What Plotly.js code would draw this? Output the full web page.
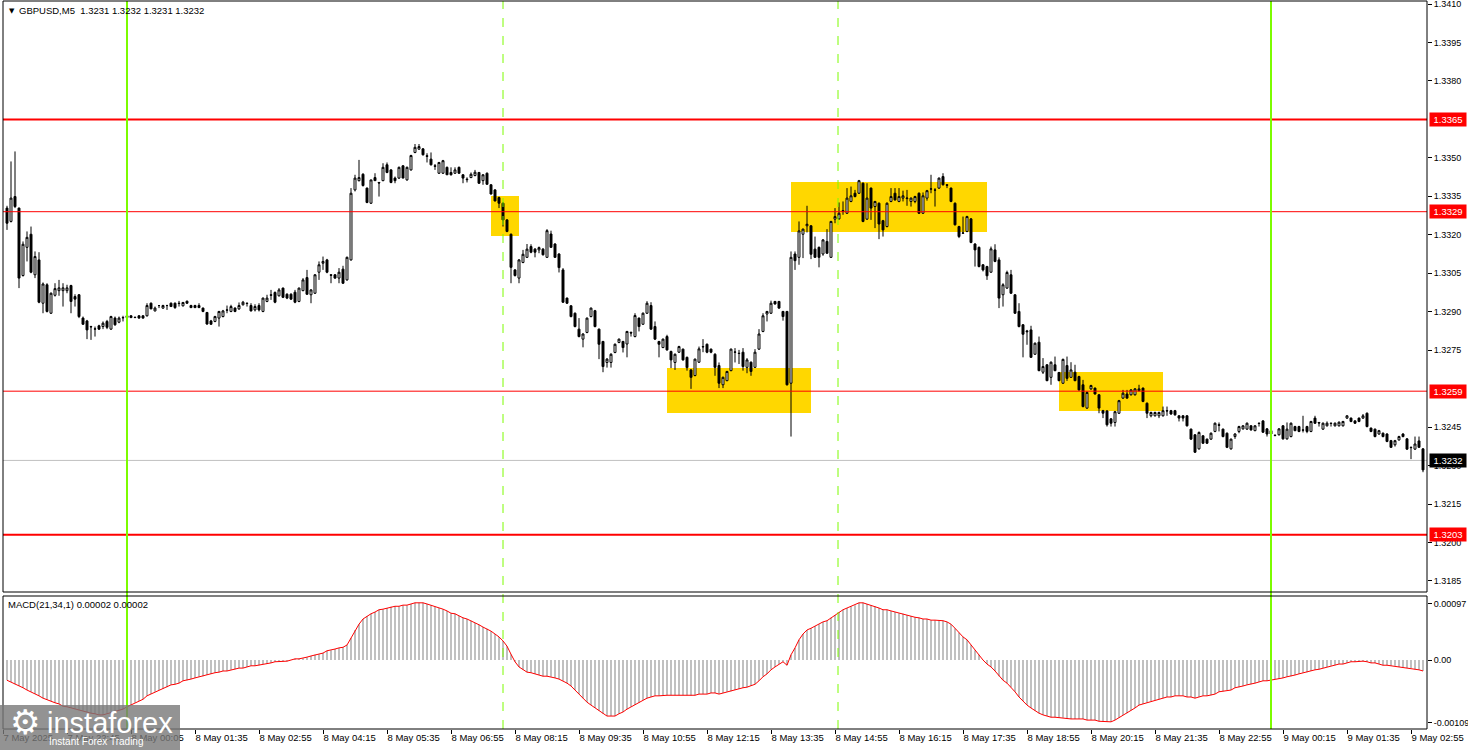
<!DOCTYPE html>
<html><head><meta charset="utf-8">
<script src="https://cdn.plot.ly/plotly-3.0.1.min.js"></script>
<style>html,body{margin:0;padding:0;background:#fff}#chart{width:1468px;height:750px}</style>
</head><body><div id="chart"></div>
<script>
// ---- GBPUSD M5 candles (bar index 0..354) ----
const opens = [
1.33304,1.33252,1.33349,1.33304,1.33041,1.33151,1.33202,1.33044,1.33102,1.32933,
1.33005,1.32894,1.32964,1.32982,1.32982,1.32982,1.33002,1.32959,1.32966,1.32875,
1.32864,1.32842,1.32832,1.32845,1.32842,1.32862,1.32832,1.32875,1.32859,1.32876,
1.32884,1.32884,1.32877,1.32884,1.32884,1.32884,1.32933,1.32903,1.32924,1.32914,
1.32924,1.32933,1.32933,1.32933,1.32923,1.32941,1.32924,1.32924,1.32924,1.32914,
1.32897,1.32864,1.32862,1.32875,1.32881,1.32907,1.32901,1.32914,1.32911,1.32927,
1.32933,1.32924,1.32907,1.32924,1.32901,1.32940,1.32966,1.32975,1.32962,1.32992,
1.32968,1.32968,1.32976,1.32940,1.32982,1.33033,1.32966,1.32972,1.33054,1.33089,
1.33102,1.33044,1.33044,1.33031,1.33066,1.33024,1.33102,1.33375,1.33411,1.33436,
1.33382,1.33323,1.33423,1.33404,1.33411,1.33473,1.33453,1.33421,1.33421,1.33469,
1.33414,1.33453,1.33521,1.33534,1.33535,1.33508,1.33495,1.33469,1.33440,1.33440,
1.33463,1.33443,1.33440,1.33463,1.33434,1.33417,1.33423,1.33431,1.33443,1.33411,
1.33440,1.33395,1.33375,1.33345,1.33323,1.33258,1.33202,1.33063,1.33031,1.33092,
1.33112,1.33154,1.33144,1.33141,1.33144,1.33112,1.33203,1.33164,1.33125,1.33063,
1.32953,1.32923,1.32894,1.32832,1.32793,1.32819,1.32881,1.32904,1.32832,1.32784,
1.32702,1.32702,1.32741,1.32780,1.32784,1.32774,1.32819,1.32803,1.32875,1.32851,
1.32894,1.32924,1.32842,1.32784,1.32760,1.32803,1.32745,1.32702,1.32742,1.32754,
1.32722,1.32673,1.32651,1.32703,1.32764,1.32773,1.32754,1.32734,1.32690,1.32615,
1.32631,1.32670,1.32743,1.32738,1.32742,1.32683,1.32703,1.32683,1.32754,1.32823,
1.32891,1.32894,1.32940,1.32940,1.32901,1.32901,1.32621,1.33125,1.33112,1.33202,
1.33235,1.33235,1.33144,1.33151,1.33125,1.33174,1.33112,1.33261,1.33262,1.33291,
1.33284,1.33330,1.33362,1.33362,1.33401,1.33261,1.33382,1.33310,1.33323,1.33255,
1.33232,1.33330,1.33362,1.33330,1.33343,1.33341,1.33330,1.33330,1.33362,1.33284,
1.33343,1.33378,1.33375,1.33382,1.33427,1.33395,1.33382,1.33323,1.33232,1.33206,
1.33213,1.33262,1.33164,1.33151,1.33083,1.33076,1.33054,1.33141,1.33102,1.32966,
1.32992,1.33044,1.32966,1.32901,1.32849,1.32825,1.32829,1.32734,1.32781,1.32664,
1.32693,1.32644,1.32693,1.32663,1.32621,1.32690,1.32644,1.32664,1.32647,1.32615,
1.32524,1.32599,1.32602,1.32576,1.32514,1.32513,1.32482,1.32468,1.32504,1.32563,
1.32579,1.32576,1.32576,1.32592,1.32602,1.32543,1.32494,1.32494,1.32494,1.32494,
1.32514,1.32514,1.32514,1.32494,1.32494,1.32494,1.32442,1.32420,1.32365,1.32416,
1.32403,1.32403,1.32433,1.32459,1.32442,1.32426,1.32365,1.32413,1.32433,1.32443,
1.32442,1.32455,1.32436,1.32465,1.32474,1.32443,1.32436,1.32417,1.32420,1.32455,
1.32404,1.32413,1.32452,1.32452,1.32439,1.32452,1.32433,1.32485,1.32468,1.32442,
1.32455,1.32465,1.32455,1.32455,1.32455,1.32485,1.32485,1.32474,1.32485,1.32485,
1.32504,1.32446,1.32442,1.32423,1.32426,1.32423,1.32397,1.32381,1.32400,1.32423,
1.32404,1.32371,1.32364,1.32396,1.32365];
const highs = [
1.33313,1.33486,1.33525,1.33306,1.33174,1.33213,1.33232,1.33135,1.33132,1.33014,
1.33011,1.32975,1.33011,1.33024,1.33011,1.33005,1.33005,1.32968,1.32969,1.32881,
1.32868,1.32845,1.32842,1.32849,1.32862,1.32868,1.32884,1.32881,1.32881,1.32884,
1.32886,1.32886,1.32880,1.32886,1.32886,1.32933,1.32936,1.32920,1.32925,1.32927,
1.32927,1.32936,1.32936,1.32942,1.32938,1.32943,1.32927,1.32927,1.32933,1.32916,
1.32899,1.32868,1.32884,1.32903,1.32907,1.32924,1.32927,1.32917,1.32936,1.32942,
1.32936,1.32933,1.32929,1.32933,1.32955,1.32966,1.32985,1.32979,1.32992,1.32994,
1.32972,1.32972,1.32985,1.32994,1.33031,1.33063,1.32988,1.33046,1.33096,1.33115,
1.33106,1.33045,1.33046,1.33070,1.33079,1.33115,1.33382,1.33434,1.33492,1.33440,
1.33384,1.33414,1.33440,1.33406,1.33479,1.33482,1.33456,1.33427,1.33466,1.33471,
1.33466,1.33512,1.33554,1.33554,1.33538,1.33518,1.33521,1.33476,1.33484,1.33492,
1.33466,1.33463,1.33463,1.33466,1.33436,1.33424,1.33443,1.33453,1.33445,1.33436,
1.33443,1.33397,1.33378,1.33349,1.33326,1.33261,1.33205,1.33066,1.33105,1.33141,
1.33164,1.33163,1.33148,1.33154,1.33148,1.33222,1.33216,1.33167,1.33128,1.33070,
1.32955,1.32925,1.32897,1.32875,1.32816,1.32877,1.32916,1.32907,1.32834,1.32786,
1.32719,1.32738,1.32776,1.32795,1.32786,1.32825,1.32823,1.32894,1.32877,1.32897,
1.32941,1.32937,1.32862,1.32786,1.32795,1.32810,1.32748,1.32737,1.32767,1.32756,
1.32725,1.32676,1.32717,1.32764,1.32793,1.32776,1.32756,1.32738,1.32702,1.32647,
1.32669,1.32756,1.32758,1.32751,1.32758,1.32719,1.32706,1.32754,1.32832,1.32894,
1.32903,1.32943,1.32942,1.32942,1.32903,1.32903,1.33135,1.33135,1.33252,1.33224,
1.33313,1.33237,1.33193,1.33154,1.33183,1.33222,1.33254,1.33304,1.33326,1.33330,
1.33382,1.33388,1.33375,1.33414,1.33404,1.33401,1.33384,1.33332,1.33326,1.33258,
1.33326,1.33382,1.33382,1.33382,1.33372,1.33375,1.33345,1.33352,1.33365,1.33365,
1.33375,1.33434,1.33382,1.33423,1.33440,1.33396,1.33384,1.33326,1.33235,1.33271,
1.33274,1.33265,1.33167,1.33154,1.33085,1.33079,1.33154,1.33163,1.33112,1.33011,
1.33060,1.33063,1.32968,1.32933,1.32852,1.32829,1.32845,1.32780,1.32803,1.32719,
1.32695,1.32706,1.32725,1.32665,1.32717,1.32725,1.32703,1.32693,1.32650,1.32634,
1.32589,1.32615,1.32604,1.32578,1.32517,1.32516,1.32485,1.32513,1.32556,1.32595,
1.32595,1.32598,1.32602,1.32615,1.32604,1.32546,1.32510,1.32510,1.32510,1.32530,
1.32530,1.32517,1.32517,1.32496,1.32496,1.32496,1.32444,1.32422,1.32433,1.32418,
1.32405,1.32429,1.32468,1.32468,1.32444,1.32429,1.32405,1.32426,1.32455,1.32457,
1.32468,1.32457,1.32457,1.32468,1.32477,1.32446,1.32439,1.32420,1.32446,1.32457,
1.32468,1.32468,1.32455,1.32455,1.32494,1.32455,1.32474,1.32494,1.32470,1.32468,
1.32472,1.32468,1.32468,1.32472,1.32474,1.32496,1.32487,1.32477,1.32487,1.32501,
1.32507,1.32448,1.32444,1.32439,1.32429,1.32426,1.32400,1.32400,1.32416,1.32426,
1.32407,1.32374,1.32413,1.32413,1.32368];
const lows = [
1.33219,1.33248,1.33304,1.32992,1.33037,1.33096,1.33050,1.33031,1.32933,1.32894,
1.32897,1.32891,1.32959,1.32962,1.32920,1.32972,1.32894,1.32920,1.32875,1.32849,
1.32793,1.32790,1.32803,1.32829,1.32832,1.32832,1.32829,1.32845,1.32855,1.32862,
1.32875,1.32875,1.32875,1.32873,1.32873,1.32881,1.32910,1.32901,1.32914,1.32911,
1.32907,1.32920,1.32911,1.32920,1.32920,1.32930,1.32914,1.32914,1.32914,1.32898,
1.32849,1.32849,1.32859,1.32842,1.32878,1.32894,1.32898,1.32898,1.32907,1.32924,
1.32920,1.32901,1.32901,1.32901,1.32898,1.32937,1.32946,1.32933,1.32959,1.32953,
1.32949,1.32946,1.32933,1.32937,1.32980,1.32966,1.32933,1.32969,1.33024,1.33063,
1.33050,1.33011,1.33028,1.33011,1.33008,1.33021,1.33099,1.33369,1.33408,1.33388,
1.33323,1.33320,1.33411,1.33349,1.33409,1.33440,1.33401,1.33401,1.33418,1.33421,
1.33411,1.33450,1.33518,1.33531,1.33509,1.33482,1.33470,1.33453,1.33437,1.33437,
1.33434,1.33431,1.33437,1.33437,1.33401,1.33404,1.33421,1.33428,1.33398,1.33395,
1.33395,1.33357,1.33330,1.33304,1.33232,1.33210,1.33011,1.33037,1.33011,1.33089,
1.33110,1.33128,1.33112,1.33128,1.33119,1.33110,1.33149,1.33110,1.33053,1.32934,
1.32930,1.32878,1.32839,1.32800,1.32761,1.32816,1.32878,1.32839,1.32715,1.32664,
1.32682,1.32682,1.32738,1.32777,1.32741,1.32722,1.32803,1.32800,1.32823,1.32849,
1.32891,1.32829,1.32790,1.32722,1.32758,1.32748,1.32680,1.32673,1.32739,1.32709,
1.32670,1.32599,1.32648,1.32700,1.32742,1.32738,1.32738,1.32650,1.32602,1.32602,
1.32629,1.32668,1.32702,1.32696,1.32670,1.32660,1.32650,1.32681,1.32751,1.32820,
1.32862,1.32891,1.32928,1.32911,1.32865,1.32612,1.32413,1.33063,1.33083,1.33109,
1.33209,1.33105,1.33110,1.33073,1.33118,1.33125,1.33110,1.33245,1.33259,1.33278,
1.33281,1.33327,1.33346,1.33359,1.33249,1.33258,1.33258,1.33226,1.33183,1.33193,
1.33229,1.33327,1.33333,1.33327,1.33330,1.33313,1.33310,1.33323,1.33281,1.33281,
1.33333,1.33362,1.33310,1.33379,1.33392,1.33382,1.33327,1.33236,1.33187,1.33203,
1.33210,1.33167,1.33076,1.33073,1.33057,1.33024,1.33052,1.33093,1.32914,1.32920,
1.32989,1.32969,1.32891,1.32839,1.32722,1.32771,1.32720,1.32732,1.32668,1.32657,
1.32629,1.32615,1.32668,1.32629,1.32618,1.32630,1.32642,1.32629,1.32592,1.32527,
1.32521,1.32595,1.32577,1.32504,1.32485,1.32452,1.32452,1.32452,1.32501,1.32560,
1.32560,1.32573,1.32573,1.32589,1.32547,1.32485,1.32488,1.32491,1.32485,1.32491,
1.32494,1.32498,1.32494,1.32472,1.32472,1.32452,1.32400,1.32349,1.32362,1.32384,
1.32384,1.32400,1.32430,1.32433,1.32410,1.32368,1.32362,1.32404,1.32426,1.32440,
1.32439,1.32436,1.32434,1.32452,1.32427,1.32413,1.32421,1.32414,1.32417,1.32401,
1.32401,1.32410,1.32434,1.32430,1.32429,1.32426,1.32430,1.32462,1.32452,1.32439,
1.32452,1.32452,1.32452,1.32452,1.32452,1.32482,1.32469,1.32462,1.32469,1.32482,
1.32449,1.32430,1.32410,1.32420,1.32410,1.32391,1.32369,1.32374,1.32397,1.32410,
1.32361,1.32325,1.32361,1.32369,1.32274];
const closes = [
1.33245,1.33343,1.33310,1.33031,1.33163,1.33190,1.33054,1.33115,1.32937,1.33008,
1.32901,1.32972,1.32990,1.32993,1.32993,1.32993,1.32940,1.32949,1.32881,1.32851,
1.32829,1.32841,1.32833,1.32832,1.32855,1.32839,1.32881,1.32849,1.32875,1.32877,
1.32877,1.32877,1.32878,1.32875,1.32875,1.32924,1.32911,1.32914,1.32924,1.32924,
1.32924,1.32920,1.32916,1.32932,1.32936,1.32933,1.32916,1.32916,1.32916,1.32901,
1.32852,1.32851,1.32881,1.32901,1.32903,1.32906,1.32920,1.32901,1.32924,1.32937,
1.32932,1.32903,1.32920,1.32907,1.32953,1.32953,1.32964,1.32937,1.32985,1.32956,
1.32953,1.32949,1.32937,1.32992,1.33024,1.32968,1.32985,1.33044,1.33083,1.33096,
1.33054,1.33042,1.33031,1.33054,1.33011,1.33112,1.33362,1.33421,1.33423,1.33392,
1.33326,1.33414,1.33411,1.33402,1.33463,1.33443,1.33404,1.33411,1.33463,1.33421,
1.33463,1.33509,1.33541,1.33544,1.33512,1.33506,1.33473,1.33467,1.33482,1.33489,
1.33434,1.33434,1.33453,1.33440,1.33421,1.33415,1.33436,1.33444,1.33401,1.33434,
1.33397,1.33359,1.33332,1.33323,1.33258,1.33213,1.33073,1.33041,1.33102,1.33124,
1.33144,1.33132,1.33132,1.33150,1.33122,1.33216,1.33151,1.33112,1.33072,1.32937,
1.32933,1.32881,1.32842,1.32803,1.32813,1.32875,1.32914,1.32842,1.32773,1.32686,
1.32715,1.32734,1.32773,1.32793,1.32760,1.32823,1.32817,1.32885,1.32842,1.32894,
1.32933,1.32832,1.32793,1.32773,1.32793,1.32751,1.32712,1.32734,1.32764,1.32712,
1.32682,1.32644,1.32715,1.32755,1.32763,1.32742,1.32742,1.32683,1.32621,1.32644,
1.32667,1.32754,1.32742,1.32737,1.32686,1.32712,1.32667,1.32742,1.32813,1.32884,
1.32901,1.32933,1.32930,1.32914,1.32881,1.32615,1.33112,1.33099,1.33215,1.33222,
1.33241,1.33124,1.33112,1.33112,1.33180,1.33128,1.33252,1.33271,1.33284,1.33294,
1.33343,1.33352,1.33349,1.33411,1.33252,1.33343,1.33304,1.33330,1.33242,1.33219,
1.33323,1.33349,1.33336,1.33349,1.33352,1.33343,1.33343,1.33349,1.33284,1.33352,
1.33372,1.33379,1.33374,1.33421,1.33395,1.33393,1.33330,1.33239,1.33193,1.33207,
1.33271,1.33170,1.33141,1.33076,1.33063,1.33040,1.33145,1.33096,1.32953,1.33005,
1.33053,1.32972,1.32894,1.32842,1.32812,1.32822,1.32722,1.32777,1.32670,1.32686,
1.32631,1.32703,1.32670,1.32631,1.32714,1.32640,1.32673,1.32631,1.32595,1.32530,
1.32585,1.32612,1.32579,1.32524,1.32504,1.32459,1.32465,1.32510,1.32553,1.32582,
1.32563,1.32595,1.32599,1.32599,1.32550,1.32504,1.32507,1.32507,1.32507,1.32514,
1.32513,1.32501,1.32498,1.32485,1.32485,1.32455,1.32403,1.32352,1.32429,1.32387,
1.32387,1.32426,1.32465,1.32457,1.32413,1.32371,1.32403,1.32423,1.32452,1.32455,
1.32465,1.32439,1.32455,1.32464,1.32430,1.32423,1.32423,1.32418,1.32443,1.32404,
1.32442,1.32465,1.32436,1.32433,1.32438,1.32433,1.32472,1.32465,1.32466,1.32465,
1.32465,1.32464,1.32465,1.32469,1.32472,1.32494,1.32472,1.32465,1.32472,1.32494,
1.32452,1.32433,1.32413,1.32436,1.32413,1.32394,1.32371,1.32397,1.32413,1.32413,
1.32364,1.32370,1.32384,1.32371,1.32283];
// ---- MACD(21,34,1) per bar ----
const macdValues = [
-0.00035,-0.00038,-0.00042,-0.00045,-0.00048,-0.00052,-0.00055,-0.00059,-0.00062,-0.00066,
-0.00069,-0.00071,-0.00074,-0.00076,-0.00080,-0.00081,-0.00083,-0.00085,-0.00087,-0.00088,
-0.00090,-0.00092,-0.00093,-0.00095,-0.00095,-0.00093,-0.00092,-0.00090,-0.00088,-0.00085,
-0.00081,-0.00078,-0.00074,-0.00071,-0.00068,-0.00062,-0.00059,-0.00055,-0.00052,-0.00050,
-0.00047,-0.00043,-0.00042,-0.00040,-0.00036,-0.00035,-0.00033,-0.00031,-0.00029,-0.00028,
-0.00026,-0.00024,-0.00022,-0.00021,-0.00019,-0.00019,-0.00017,-0.00016,-0.00014,-0.00014,
-0.00012,-0.00010,-0.00010,-0.00009,-0.00007,-0.00007,-0.00005,-0.00003,-0.00003,-0.00002,
-0.00002,0.00000,0.00002,0.00002,0.00003,0.00005,0.00007,0.00009,0.00010,0.00012,
0.00016,0.00017,0.00019,0.00021,0.00022,0.00026,0.00038,0.00052,0.00062,0.00071,
0.00076,0.00080,0.00083,0.00087,0.00088,0.00090,0.00092,0.00093,0.00093,0.00095,
0.00095,0.00097,0.00099,0.00099,0.00099,0.00097,0.00095,0.00092,0.00090,0.00088,
0.00085,0.00081,0.00080,0.00076,0.00073,0.00071,0.00068,0.00064,0.00061,0.00057,
0.00054,0.00050,0.00045,0.00040,0.00033,0.00024,0.00010,-0.00003,-0.00012,-0.00017,
-0.00021,-0.00022,-0.00024,-0.00026,-0.00028,-0.00028,-0.00029,-0.00031,-0.00033,-0.00036,
-0.00040,-0.00045,-0.00052,-0.00059,-0.00066,-0.00073,-0.00078,-0.00083,-0.00088,-0.00093,
-0.00097,-0.00097,-0.00097,-0.00093,-0.00090,-0.00085,-0.00081,-0.00078,-0.00074,-0.00069,
-0.00066,-0.00064,-0.00062,-0.00062,-0.00061,-0.00061,-0.00061,-0.00061,-0.00061,-0.00061,
-0.00061,-0.00062,-0.00061,-0.00059,-0.00059,-0.00059,-0.00057,-0.00057,-0.00059,-0.00057,
-0.00055,-0.00054,-0.00052,-0.00050,-0.00048,-0.00047,-0.00045,-0.00042,-0.00036,-0.00029,
-0.00024,-0.00017,-0.00012,-0.00007,-0.00003,-0.00009,0.00009,0.00021,0.00035,0.00045,
0.00052,0.00055,0.00059,0.00062,0.00066,0.00068,0.00073,0.00078,0.00083,0.00087,
0.00090,0.00093,0.00095,0.00099,0.00099,0.00097,0.00095,0.00093,0.00090,0.00087,
0.00087,0.00085,0.00083,0.00081,0.00080,0.00078,0.00076,0.00074,0.00073,0.00071,
0.00071,0.00069,0.00069,0.00069,0.00068,0.00066,0.00062,0.00055,0.00047,0.00040,
0.00035,0.00026,0.00017,0.00009,0.00000,-0.00007,-0.00012,-0.00019,-0.00028,-0.00035,
-0.00040,-0.00047,-0.00055,-0.00064,-0.00071,-0.00078,-0.00083,-0.00088,-0.00092,-0.00095,
-0.00097,-0.00099,-0.00099,-0.00100,-0.00100,-0.00102,-0.00102,-0.00102,-0.00102,-0.00102,
-0.00104,-0.00104,-0.00104,-0.00106,-0.00106,-0.00107,-0.00107,-0.00104,-0.00100,-0.00095,
-0.00092,-0.00087,-0.00083,-0.00078,-0.00076,-0.00074,-0.00071,-0.00069,-0.00068,-0.00066,
-0.00064,-0.00064,-0.00062,-0.00062,-0.00062,-0.00064,-0.00064,-0.00066,-0.00064,-0.00062,
-0.00062,-0.00061,-0.00059,-0.00055,-0.00054,-0.00052,-0.00052,-0.00048,-0.00047,-0.00045,
-0.00043,-0.00042,-0.00040,-0.00038,-0.00036,-0.00036,-0.00035,-0.00033,-0.00033,-0.00031,
-0.00029,-0.00028,-0.00026,-0.00024,-0.00022,-0.00021,-0.00019,-0.00017,-0.00016,-0.00014,
-0.00012,-0.00010,-0.00009,-0.00007,-0.00007,-0.00005,-0.00003,-0.00003,-0.00002,-0.00002,
-0.00003,-0.00005,-0.00005,-0.00007,-0.00009,-0.00009,-0.00010,-0.00010,-0.00012,-0.00012,
-0.00014,-0.00014,-0.00016,-0.00017,-0.00019];
// ---- axis ticks ----
const timeTickBars = [-1,15,31,47,63,79,95,111,127,143,159,175,191,207,223,239,255,271,287,303,319,335,351];
const timeTickLabels = ['7 May 2025','7 May 22:45','8 May 00:05','8 May 01:35','8 May 02:55','8 May 04:15','8 May 05:35',
  '8 May 06:55','8 May 08:15','8 May 09:35','8 May 10:55','8 May 12:15','8 May 13:35','8 May 14:55','8 May 16:15',
  '8 May 17:35','8 May 18:55','8 May 20:15','8 May 21:35','8 May 22:55','9 May 00:15','9 May 01:35','9 May 02:55'];
// price ticks every 0.0015 (1.3365 and 1.3260 sit fully under the level boxes, as in the original)
const priceTicks = [1.3410,1.3395,1.3380,1.3350,1.3335,1.3320,1.3305,1.3290,1.3275,1.3245,1.3230,1.3215,1.3200,1.3185];
const macdTicks = [0.00097,0,-0.00109];
const macdTickLabels = ['0.00097','0.00','-0.00109'];
// ---- drawn objects ----
const strongLevels = [1.3365,1.3203];
const thinLevels = [1.3329,1.3259];
const bidPrice = 1.3232;
const greenLineBars = [30,316];
const dashedLineBars = [124,207.75];
const zoneStart = [121,165,196,263];
const zoneEnd = [128,201,245,289];
const zoneTop = [1.33351,1.32680,1.33406,1.32665];
const zoneBottom = [1.33195,1.32505,1.33211,1.32513];

const bars = opens.map((_, i) => i);
const FONT = 'Liberation Sans, Arial, sans-serif';
const px = v => (v - 3) / 1424;       // pixel x -> paper
const py = v => (729 - v) / 728;      // pixel y -> paper
const mainBottom = py(592), macdTop = py(596);

const traces = [
  {type:'candlestick', x:bars, open:opens, high:highs, low:lows, close:closes, xaxis:'x', yaxis:'y',
   increasing:{line:{color:'#000', width:1}, fillcolor:'#fff'},
   decreasing:{line:{color:'#000', width:1}, fillcolor:'#000'},
   whiskerwidth:0, hoverinfo:'skip', showlegend:false},
  {type:'bar', x:bars, y:macdValues, xaxis:'x', yaxis:'y2', width:0.5,
   marker:{color:'#c0c0c0', line:{width:0}}, hoverinfo:'skip', showlegend:false},
  {type:'scatter', mode:'lines', x:bars, y:macdValues, xaxis:'x', yaxis:'y2',
   line:{color:'#ff0000', width:1}, hoverinfo:'skip', showlegend:false}
];

const shapes = [];
zoneStart.forEach((s, k) => shapes.push({type:'rect', xref:'x', yref:'y', x0:s, x1:zoneEnd[k], y0:zoneBottom[k], y1:zoneTop[k],
  fillcolor:'#ffd700', line:{width:0}, layer:'below'}));
shapes.push({type:'line', xref:'paper', yref:'y', x0:0, x1:1, y0:bidPrice, y1:bidPrice, line:{color:'#c0c0c0', width:1}, layer:'below'});
thinLevels.forEach(v => shapes.push({type:'line', xref:'paper', yref:'y', x0:0, x1:1, y0:v, y1:v, line:{color:'#ff0000', width:1}}));
strongLevels.forEach(v => shapes.push({type:'line', xref:'paper', yref:'y', x0:0, x1:1, y0:v, y1:v, line:{color:'#ff0000', width:2}}));
dashedLineBars.forEach(b => shapes.push({type:'line', xref:'x', yref:'paper', x0:b, x1:b, y0:0, y1:1, line:{color:'#7cfc00', width:1, dash:'dash'}}));
greenLineBars.forEach(b => shapes.push({type:'line', xref:'x', yref:'paper', x0:b, x1:b, y0:0, y1:1, line:{color:'#7cfc00', width:2}}));
// panel frames
shapes.push({type:'rect', xref:'paper', yref:'paper', x0:0, x1:1, y0:mainBottom, y1:1, line:{color:'#000', width:1}});
shapes.push({type:'rect', xref:'paper', yref:'paper', x0:0, x1:1, y0:0, y1:macdTop, line:{color:'#000', width:1}});
// watermark box
shapes.push({type:'rect', xref:'paper', yref:'paper', x0:px(0), x1:px(180), y0:py(750), y1:py(705),
  fillcolor:'rgba(120,120,120,0.8)', line:{width:0}, layer:'above'});

const annotations = [];
strongLevels.concat(thinLevels).forEach(v => annotations.push({xref:'paper', x:1, xanchor:'left', xshift:2, yref:'y', y:v,
  text:v.toFixed(4), showarrow:false, bgcolor:'#ff0000', font:{family:FONT, size:9.5, color:'#fff'}, width:34, height:11, borderpad:1}));
annotations.push({xref:'paper', x:1, xanchor:'left', xshift:2, yref:'y', y:bidPrice,
  text:bidPrice.toFixed(4), showarrow:false, bgcolor:'#000', font:{family:FONT, size:9.5, color:'#fff'}, width:34, height:11, borderpad:1});
annotations.push({xref:'paper', x:px(7), xanchor:'left', yref:'paper', y:py(11), yanchor:'middle', text:'▼', showarrow:false,
  font:{family:'DejaVu Sans', size:7, color:'#000'}});
annotations.push({xref:'paper', x:px(17), xanchor:'left', yref:'paper', y:py(11), yanchor:'middle',
  text:'GBPUSD,M5\u00a0\u00a01.3231 1.3232 1.3231 1.3232', showarrow:false, font:{family:FONT, size:9.5, color:'#000'}});
annotations.push({xref:'paper', x:px(6), xanchor:'left', yref:'paper', y:py(604), yanchor:'middle',
  text:'MACD(21,34,1) 0.00002 0.00002', showarrow:false, font:{family:FONT, size:9.5, color:'#000'}});
annotations.push({xref:'paper', x:px(25), xanchor:'center', yref:'paper', y:py(722), yanchor:'middle', text:'⚙', showarrow:false,
  font:{family:'DejaVu Sans', size:34, color:'#fff'}});
annotations.push({xref:'paper', x:px(45), xanchor:'left', yref:'paper', y:py(723), yanchor:'middle', text:'instaforex', showarrow:false,
  font:{family:FONT, size:29, color:'#fff'}});
annotations.push({xref:'paper', x:px(47), xanchor:'left', yref:'paper', y:py(741), yanchor:'middle', text:'Instant Forex Trading', showarrow:false,
  font:{family:FONT, size:10, color:'#fff'}});

const layout = {
  width:1468, height:750, margin:{l:3, r:41, t:1, b:21, pad:0},
  paper_bgcolor:'#fff', plot_bgcolor:'#fff', showlegend:false, hovermode:false, dragmode:false,
  font:{family:FONT, size:10, color:'#000'},
  boxgap:0.3, boxgroupgap:0.3,
  xaxis:{range:[-1,355], anchor:'y2', showgrid:false, zeroline:false, tickmode:'array', tickvals:timeTickBars, ticktext:timeTickLabels,
    ticks:'outside', ticklen:4, tickcolor:'#000', ticklabelposition:'outside right', tickangle:0, ticklabeloverflow:'allow',
    showline:false, rangeslider:{visible:false}, fixedrange:true, tickfont:{family:FONT, size:9.5, color:'#000'}},
  yaxis:{domain:[mainBottom,1], range:[1.318068,1.341117], side:'right', anchor:'x', tickmode:'array', tickvals:priceTicks,
    ticktext:priceTicks.map(v => v.toFixed(4)), ticks:'outside', ticklen:4, tickcolor:'#000', showgrid:false, zeroline:false,
    ticklabeloverflow:'allow', showline:false, fixedrange:true, tickfont:{family:FONT, size:9, color:'#000'}},
  yaxis2:{domain:[0,macdTop], range:[-0.001194,0.001108], side:'right', anchor:'x', tickmode:'array', tickvals:macdTicks,
    ticktext:macdTickLabels, ticks:'outside', ticklen:4, tickcolor:'#000', showgrid:false, zeroline:false, showline:false,
    ticklabeloverflow:'allow', fixedrange:true, tickfont:{family:FONT, size:9, color:'#000'}},
  shapes:shapes, annotations:annotations
};
Plotly.newPlot('chart', traces, layout, {staticPlot:true, displayModeBar:false});
</script>
</body></html>
